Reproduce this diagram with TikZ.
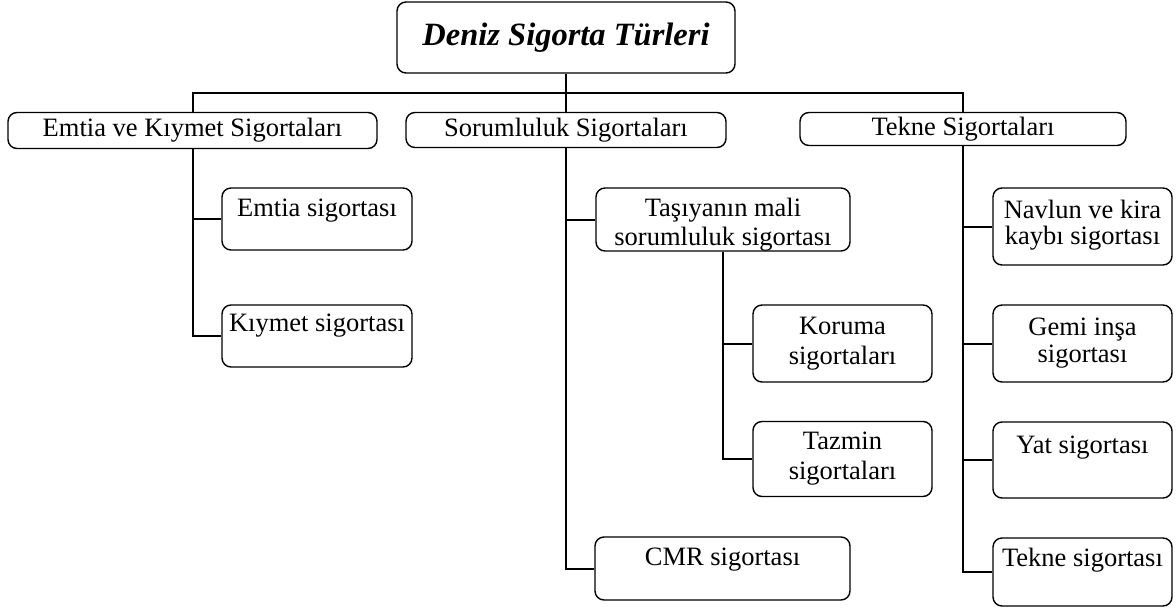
\documentclass[tikz,border=0pt]{standalone}
\usepackage{fontspec}
\setmainfont{Liberation Serif}
\begin{document}
\begin{tikzpicture}[x=1pt,y=-1pt,
  box/.style={draw, line width=1.4pt, rounded corners=9pt, inner sep=0pt, align=center,
    font=\fontsize{26.5}{30}\selectfont},
  boxtext/.style={inner sep=0pt, align=center, font=\fontsize{26.5}{28.5}\selectfont},
  conn/.style={line width=2pt}]
\useasboundingbox (0,0) rectangle (1176,611);
% title
\node[box, minimum width=338pt, minimum height=71pt,
  font=\fontsize{32.5}{36}\selectfont\bfseries\itshape] (title) at (566,37.5) {Deniz Sigorta Türleri};
% level 1
\node[box, minimum width=369pt, minimum height=36pt] (emt) at (192.5,130.5) {Emtia ve Kıymet Sigortaları};
\node[box, minimum width=320pt, minimum height=35pt] (sor) at (566,130) {Sorumluluk Sigortaları};
\node[box, minimum width=326pt, minimum height=33pt] (tek) at (963,129) {Tekne Sigortaları};
% level 2 left
\node[box, minimum width=190pt, minimum height=62pt] (emts) at (317,219) {Emtia sigortası\\[-8pt]\mbox{}};
\node[box, minimum width=190pt, minimum height=62pt] (kiy) at (317,336) {Kıymet sigortası\\[-4pt]\mbox{}};
% level 2 middle
\node[box, minimum width=254pt, minimum height=63pt] (tas) at (723,219.5) {};
\node[boxtext] (tastext) at ([yshift=-5pt]tas.center) {Taşıyanın mali\\sorumluluk sigortası};
\node[box, minimum width=179pt, minimum height=77pt] (kor) at (842.5,343.5) {Koruma\\sigortaları};
\node[box, minimum width=179pt, minimum height=75pt] (taz) at (842.5,459) {Tazmin\\sigortaları};
\node[box, minimum width=255pt, minimum height=63pt] (cmr) at (722.5,568.5) {CMR sigortası\\[-6pt]\mbox{}};
% level 2 right
\node[box, minimum width=179pt, minimum height=77pt] (nav) at (1082.5,226.5) {Navlun ve kira\\[-4pt]kaybı sigortası\\[-22pt]\mbox{}};
\node[box, minimum width=179pt, minimum height=77pt] (gem) at (1082.5,343.5) {Gemi inşa\\[-3pt]sigortası};
\node[box, minimum width=179pt, minimum height=76pt] (yat) at (1082.5,460) {Yat sigortası\\\mbox{}};
\node[box, minimum width=179pt, minimum height=68pt] (tks) at (1082.5,572) {Tekne sigortası\\\mbox{}};
% connectors
\coordinate (bus) at (566,93);
\draw[conn] (title.south) -- (sor.north);
\draw[conn] (emt.north) |- (bus) -| (tek.north);
\draw[conn] (emt.south) |- (kiy.west);
\draw[conn] (emt.south |- emts.west) -- (emts.west);
\draw[conn] (sor.south) |- (cmr.west);
\draw[conn] (sor.south |- tas.west) -- (tas.west);
\draw[conn] (tas.south) |- (taz.west);
\draw[conn] (tas.south |- kor.west) -- (kor.west);
\draw[conn] (tek.south) |- (tks.west);
\draw[conn] (tek.south |- nav.west) -- (nav.west);
\draw[conn] (tek.south |- gem.west) -- (gem.west);
\draw[conn] (tek.south |- yat.west) -- (yat.west);
\end{tikzpicture}
\end{document}
